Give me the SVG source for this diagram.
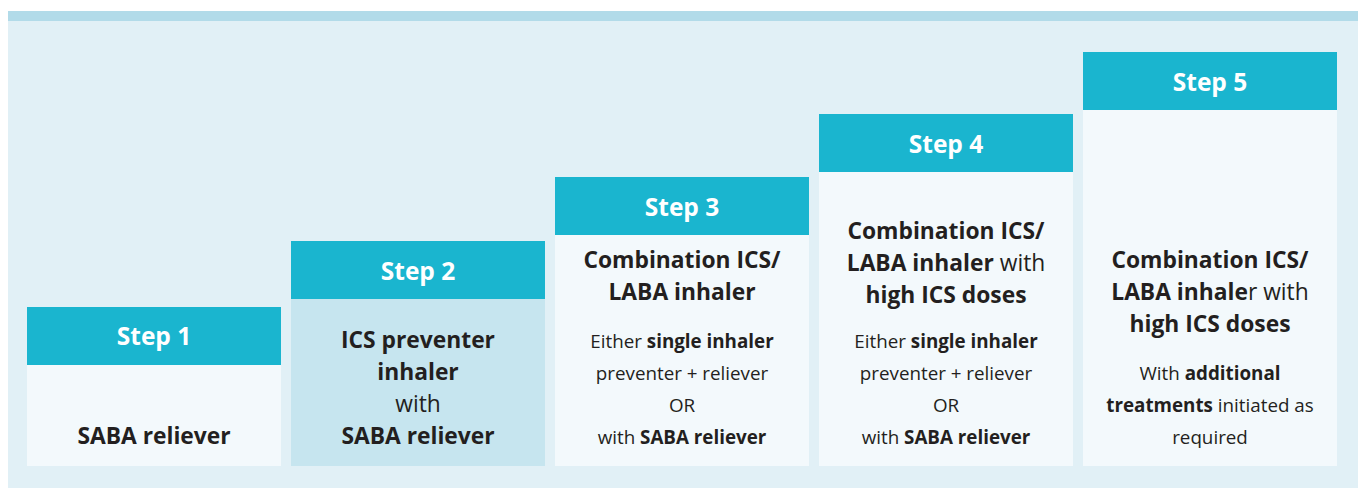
<svg xmlns="http://www.w3.org/2000/svg" width="1358" height="488" viewBox="0 0 1358 488">
<style>
.hdr{fill:#1ab5cf}
.body{fill:#f3f9fc}
.body2{fill:#c6e5ef}
text{font-family:"Open Sans","Noto Sans","Liberation Sans",sans-serif;fill:#231f20;text-anchor:middle}
.ht{font-size:24.5px;font-weight:700;fill:#ffffff}
.bt{font-size:22.8px;font-weight:700}
.bt .n{font-weight:400}
.st{font-size:18.8px;font-weight:400}
.st .b{font-weight:700}
</style>
<rect x="0" y="0" width="1358" height="488" fill="#ffffff"/>
<rect x="8" y="11" width="1350" height="10" fill="#b2dbe9"/>
<rect x="8" y="21" width="1350" height="467" fill="#e1f0f6"/>
<g id="step1">
<rect class="hdr" x="27" y="307" width="254" height="58"/>
<rect class="body" x="27" y="365" width="254" height="101"/>
<text class="ht" x="154" y="345">Step 1</text>
<text class="bt" x="154" y="444">SABA reliever</text>
</g>
<g id="step2">
<rect class="hdr" x="291" y="241" width="254" height="58"/>
<rect class="body2" x="291" y="299" width="254" height="167"/>
<text class="ht" x="418" y="280">Step 2</text>
<text class="bt" x="418" y="348">ICS preventer</text>
<text class="bt" x="418" y="380">inhaler</text>
<text class="bt" x="418" y="412"><tspan class="n">with</tspan></text>
<text class="bt" x="418" y="444">SABA reliever</text>
</g>
<g id="step3">
<rect class="hdr" x="555" y="177" width="254" height="58"/>
<rect class="body" x="555" y="235" width="254" height="231"/>
<text class="ht" x="682" y="216">Step 3</text>
<text class="bt" x="682" y="268">Combination ICS/</text>
<text class="bt" x="682" y="300">LABA inhaler</text>
<text class="st" x="682" y="348">Either <tspan class="b">single inhaler</tspan></text>
<text class="st" x="682" y="380">preventer + reliever</text>
<text class="st" x="682" y="412">OR</text>
<text class="st" x="682" y="444">with <tspan class="b">SABA reliever</tspan></text>
</g>
<g id="step4">
<rect class="hdr" x="819" y="114" width="254" height="58"/>
<rect class="body" x="819" y="172" width="254" height="294"/>
<text class="ht" x="946" y="153">Step 4</text>
<text class="bt" x="946" y="239">Combination ICS/</text>
<text class="bt" x="946" y="271">LABA inhaler <tspan class="n">with</tspan></text>
<text class="bt" x="946" y="303">high ICS doses</text>
<text class="st" x="946" y="348">Either <tspan class="b">single inhaler</tspan></text>
<text class="st" x="946" y="380">preventer + reliever</text>
<text class="st" x="946" y="412">OR</text>
<text class="st" x="946" y="444">with <tspan class="b">SABA reliever</tspan></text>
</g>
<g id="step5">
<rect class="hdr" x="1083" y="52" width="254" height="58"/>
<rect class="body" x="1083" y="110" width="254" height="356"/>
<text class="ht" x="1210" y="91">Step 5</text>
<text class="bt" x="1210" y="268">Combination ICS/</text>
<text class="bt" x="1210" y="300">LABA inhale<tspan class="n">r with</tspan></text>
<text class="bt" x="1210" y="332">high ICS doses</text>
<text class="st" x="1210" y="380">With <tspan class="b">additional</tspan></text>
<text class="st" x="1210" y="412"><tspan class="b">treatments</tspan> initiated as</text>
<text class="st" x="1210" y="444">required</text>
</g>
<g id="connectors"/>
</svg>
